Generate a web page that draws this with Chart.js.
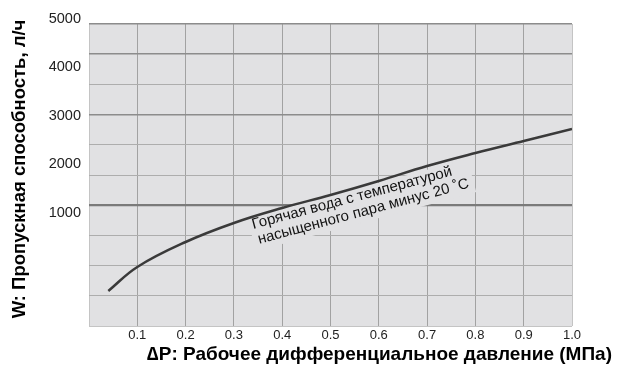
<!DOCTYPE html>
<html lang="ru">
<head>
<meta charset="utf-8">
<title>Пропускная способность</title>
<script src="https://cdn.jsdelivr.net/npm/chart.js@4.4.1/dist/chart.umd.min.js"></script>
<style>
  html, body { margin: 0; padding: 0; background: #fff; }
</style>
</head>
<body>
<canvas id="chartLine" width="622" height="368"></canvas>
<script>
/* Данные для отображения */
var deltaP = [0.04, 0.1, 0.2, 0.3, 0.4, 0.5, 0.6, 0.7, 0.8, 0.9, 1.0];
var flow = [-505, -10, 505, 897, 1206, 1474, 1763, 2072, 2340, 2588, 2835];
var xTicks = [0.1, 0.2, 0.3, 0.4, 0.5, 0.6, 0.7, 0.8, 0.9, 1.0];
var yTicks = [1000, 2000, 3000, 4000, 5000];

var yTitle = 'W: Пропускная способность, л/ч';
var xTitle = '\u2206P: Рабочее дифференциальное давление (МПа)';
var curveNote = ['Горячая вода с температурой', 'насыщенного пара минус 20 \u02DAC'];

var bgColor = '#e1e1e3';
var noteAngle = -15 * Math.PI / 180;

// точки кривой
var points = [];
for (var i = 0; i < deltaP.length; i++) {
    points.push({ x: deltaP[i], y: flow[i] });
}

// фон, подпись на кривой и заголовки осей
var decor = {
    id: 'decor',
    beforeDraw: function (chart) {
        var a = chart.chartArea;
        var ctx = chart.ctx;
        ctx.save();
        ctx.fillStyle = bgColor;
        ctx.fillRect(a.left, a.top, a.right - a.left, a.bottom - a.top);
        ctx.restore();
    },
    beforeDatasetsDraw: function (chart) {
        // подложка под текстом закрывает сетку
        var ctx = chart.ctx;
        var px = chart.scales.x.getPixelForValue(0.34);
        var py = chart.scales.y.getPixelForValue(775);
        ctx.save();
        ctx.translate(px, py);
        ctx.rotate(noteAngle);
        ctx.fillStyle = bgColor;
        ctx.fillRect(-3, -12, 228, 34);
        ctx.restore();
    },
    afterDraw: function (chart) {
        var ctx = chart.ctx;
        var px = chart.scales.x.getPixelForValue(0.34);
        var py = chart.scales.y.getPixelForValue(775);
        ctx.save();
        ctx.fillStyle = '#111';
        ctx.font = '15px "Liberation Sans", Arial, sans-serif';
        ctx.textBaseline = 'alphabetic';
        ctx.textAlign = 'left';
        ctx.translate(px, py);
        ctx.rotate(noteAngle);
        ctx.fillText(curveNote[0], 0, 0);
        ctx.fillText(curveNote[1], 2, 16);
        ctx.restore();

        ctx.save();
        ctx.fillStyle = '#000';
        ctx.font = 'bold 19px "Liberation Sans", Arial, sans-serif';
        ctx.textBaseline = 'middle';
        ctx.textAlign = 'right';
        ctx.fillText(xTitle, 612, 355);
        ctx.font = 'bold 18.5px "Liberation Sans", Arial, sans-serif';
        ctx.translate(20, 169);
        ctx.rotate(-Math.PI / 2);
        ctx.textAlign = 'center';
        ctx.fillText(yTitle, 0, 0);
        ctx.restore();
    }
};

var lineChart = new Chart(document.getElementById('chartLine'), {
    type: 'line',
    data: {
        datasets: [{
            data: points,
            borderColor: '#3a3a3a',
            borderWidth: 2.5,
            pointRadius: 0,
            tension: 0.4,
            fill: false,
            xAxisID: 'x',
            yAxisID: 'y'
        }]
    },
    options: {
        responsive: false,
        animation: false,
        devicePixelRatio: 1,
        layout: { padding: { top: 24, right: 50, left: 0, bottom: 0 } },
        plugins: {
            legend: { display: false },
            tooltip: { enabled: false }
        },
        scales: {
            x: {
                type: 'linear',
                min: 0,
                max: 1,
                afterBuildTicks: function (axis) {
                    axis.ticks = [0].concat(xTicks).map(function (v) { return { value: v }; });
                },
                afterFit: function (axis) { axis.height = 42; },
                ticks: {
                    padding: 2,
                    maxRotation: 0,
                    color: '#222',
                    font: { family: '"Liberation Sans", Arial, sans-serif', size: 13 },
                    callback: function (v) { return v === 0 ? '' : v.toFixed(1); }
                },
                grid: {
                    drawTicks: false,
                    color: function (c) {
                        var v = c.tick ? c.tick.value : 0;
                        return (v === 0 || v === 1) ? '#c4c4c4' : '#a2a2a2';
                    },
                    lineWidth: 1
                },
                border: { display: false }
            },
            y: {
                type: 'linear',
                position: 'left',
                min: -1227,
                max: 5000,
                afterBuildTicks: function (axis) {
                    axis.ticks = yTicks.map(function (v) { return { value: v }; });
                },
                afterFit: function (axis) { axis.width = 89; },
                ticks: {
                    padding: 8,
                    labelOffset: -5,
                    color: '#222',
                    font: { family: '"Liberation Sans", Arial, sans-serif', size: 14.5 },
                    callback: function (v) { return String(v); }
                },
                grid: { display: false, drawTicks: false },
                border: { display: false }
            },
            // отдельная ось только для горизонтальной сетки
            grid: {
                type: 'linear',
                position: 'left',
                min: 0,
                max: 10,
                afterFit: function (axis) { axis.width = 0; },
                ticks: { display: false, stepSize: 1 },
                grid: {
                    drawTicks: false,
                    color: function (c) {
                        var v = c.tick ? c.tick.value : 0;
                        if (v === 4) return '#7a7a7a';
                        if (v === 10 || v === 9 || v === 7) return '#8c8c8c';
                        if (v === 0) return '#c4c4c4';
                        return '#adadad';
                    },
                    lineWidth: function (c) {
                        var v = c.tick ? c.tick.value : 0;
                        if (v === 4) return 2.2;
                        if (v === 10 || v === 9 || v === 7) return 1.5;
                        return 1;
                    }
                },
                border: { display: false }
            }
        }
    },
    plugins: [decor]
});
</script>
</body>
</html>
